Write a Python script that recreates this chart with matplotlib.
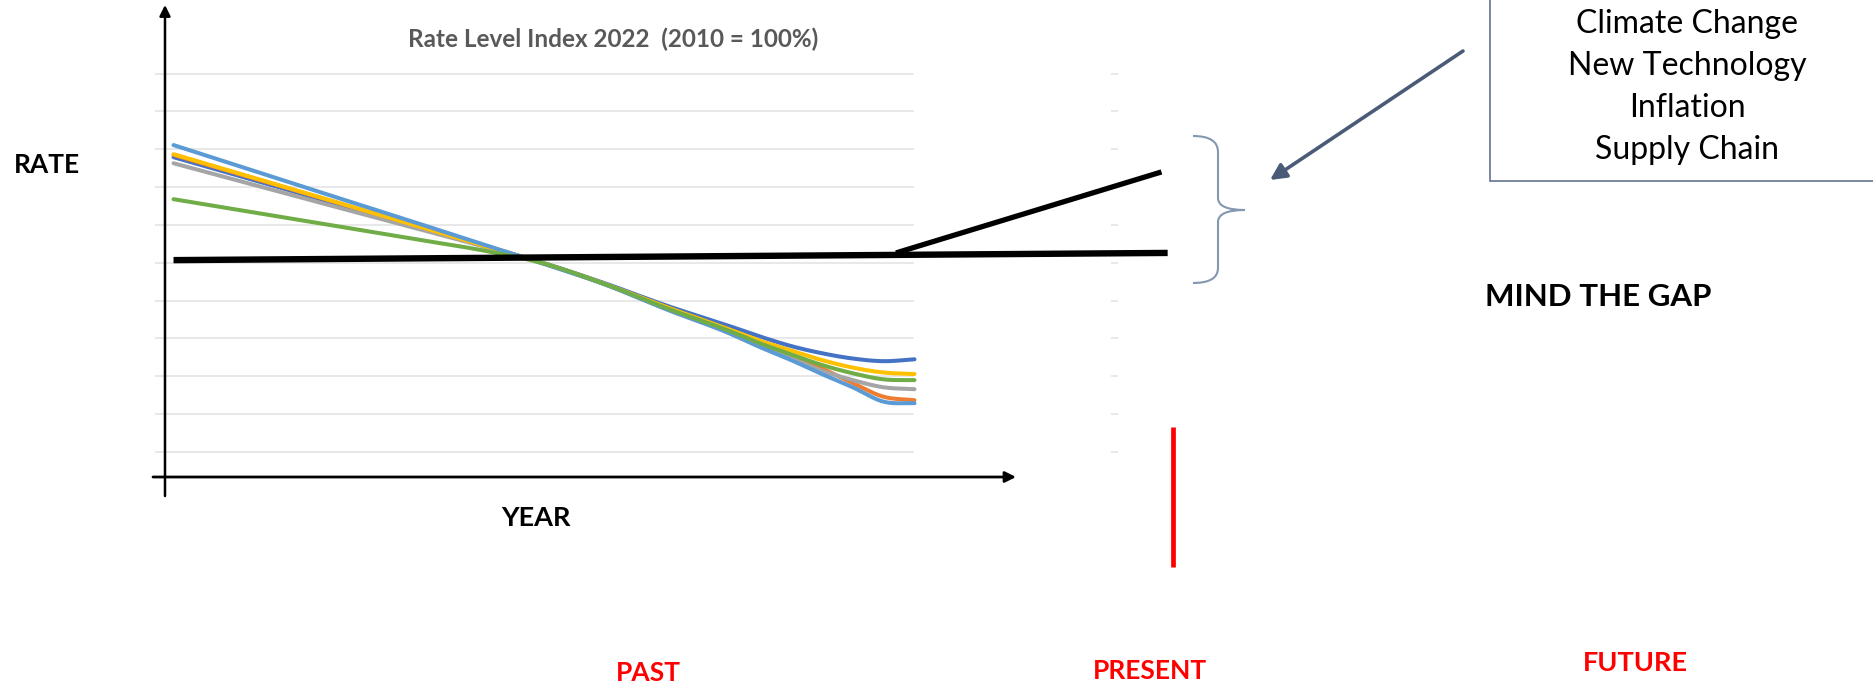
import numpy as np
import matplotlib
matplotlib.use("Agg")
import matplotlib.pyplot as plt
from matplotlib.path import Path
from matplotlib.patches import PathPatch, Rectangle

plt.rcParams['font.family'] = ['Lato', 'DejaVu Sans']

# rate level index per region, 2010 = start of series
years = [2010, 2012, 2014, 2015, 2016, 2017, 2018, 2019, 2019.5, 2020, 2020.5, 2021, 2021.5, 2022]
dark_blue = [127.9, 118.6, 109.2, 104.6, 99.9, 94.5, 88.6, 83.3, 80.5, 78.0, 76.1, 74.7, 74.0, 74.5]
orange = [128.5, 119.0, 109.4, 104.7, 99.8, 94.3, 87.9, 82.0, 78.7, 75.6, 72.1, 68.2, 64.6, 63.7]
gray = [126.3, 117.5, 108.8, 104.4, 99.8, 94.2, 87.6, 81.4, 77.8, 74.8, 71.5, 69.0, 67.1, 66.6]
yellow = [128.7, 119.1, 109.5, 104.6, 99.8, 94.3, 88.2, 82.4, 79.4, 76.8, 74.3, 72.3, 71.0, 70.6]
light_blue = [131.1, 120.6, 110.2, 104.9, 99.7, 94.2, 87.6, 81.4, 77.7, 74.3, 70.6, 67.1, 63.3, 62.9]
green = [116.8, 111.4, 106.0, 103.3, 99.8, 94.3, 87.9, 82.0, 78.7, 75.8, 73.0, 70.8, 69.2, 69.0]

series = [
    (dark_blue, '#4472C4'),
    (orange, '#ED7D31'),
    (gray, '#A5A5A5'),
    (yellow, '#FFC000'),
    (light_blue, '#5B9BD5'),
    (green, '#70AD47'),
]

# flat rate path and the projected rise
base_years = [2010, 2026.1]
base_rate = [100.7, 102.6]
proj_years = [2021.7, 2026.0]
proj_rate = [102.6, 124.0]

grid_levels = [50, 60, 70, 80, 90, 100, 110, 120, 130, 140, 150]
drivers = ['Climate Change', 'New Technology', 'Inflation', 'Supply Chain']


def smooth(xs, ys, per=30):
    # cubic hermite through the points, like a smoothed spreadsheet line
    xs = np.asarray(xs, float)
    ys = np.asarray(ys, float)
    m = np.gradient(ys, xs)
    t = np.linspace(0, 1, per, endpoint=False)
    h00 = 2 * t**3 - 3 * t**2 + 1
    h10 = t**3 - 2 * t**2 + t
    h01 = -2 * t**3 + 3 * t**2
    h11 = t**3 - t**2
    out_x, out_y = [], []
    for i in range(len(xs) - 1):
        h = xs[i + 1] - xs[i]
        out_x.append(xs[i] + t * h)
        out_y.append(h00 * ys[i] + h10 * h * m[i] + h01 * ys[i + 1] + h11 * h * m[i + 1])
    out_x.append([xs[-1]])
    out_y.append([ys[-1]])
    return np.concatenate(out_x), np.concatenate(out_y)


W, H = 1873, 683
fig = plt.figure(figsize=(W / 100, H / 100), dpi=100)

# data area in pixels: x 155..1180, y 30..477
x0, x1, y0, y1 = 2009.7, 2026.3, 43.4, 161.5
ax = fig.add_axes([155 / W, (H - 477) / H, 1025 / W, 447 / H])
ax.set_xlim(x0, x1)
ax.set_ylim(y0, y1)
ax.axis('off')

for lv in grid_levels:
    ax.hlines(lv, x0, 2022, color='#e6e6e6', lw=1.3, zorder=1)
    ax.hlines(lv, 2025.18, 2025.3, color='#e6e6e6', lw=1.3, zorder=1)

for vals, col in series:
    sx, sy = smooth(years, vals)
    ax.plot(sx, sy, color=col, lw=2.9, solid_capstyle='round', zorder=3)

ax.plot(base_years, base_rate, color='black', lw=4.6, solid_capstyle='butt', zorder=4, clip_on=False)
ax.plot(proj_years, proj_rate, color='black', lw=3.8, solid_capstyle='butt', zorder=4, clip_on=False)

# overlay in pixel coordinates for the annotations
ov = fig.add_axes([0, 0, 1, 1], zorder=5)
ov.set_xlim(0, W)
ov.set_ylim(H, 0)
ov.axis('off')
ov.patch.set_alpha(0)

ov.annotate('', xy=(165, 5), xytext=(165, 496),
            arrowprops=dict(arrowstyle='-|>', color='black', lw=1.8, mutation_scale=16, shrinkA=0, shrinkB=0))
ov.annotate('', xy=(1016, 477), xytext=(153, 477),
            arrowprops=dict(arrowstyle='-|>', color='black', lw=2.0, mutation_scale=16, shrinkA=0, shrinkB=0))

ov.text(613, 39, 'Rate Level Index 2022  (2010 = 100%)', ha='center', va='center',
        fontsize=17.5, fontweight='bold', color='#595959')
ov.text(14, 165, 'RATE', ha='left', va='center', fontsize=19, fontweight='bold', color='black')
ov.text(536, 518, 'YEAR', ha='center', va='center', fontsize=19.5, fontweight='bold', color='black')

# brace around the gap
bv = [(1193, 136), (1218, 136), (1218, 152), (1218, 198), (1218, 210), (1245, 210),
      (1218, 210), (1218, 222), (1218, 268), (1218, 283), (1193, 283)]
bc = [Path.MOVETO, Path.CURVE3, Path.CURVE3, Path.LINETO, Path.CURVE3, Path.CURVE3,
      Path.CURVE3, Path.CURVE3, Path.LINETO, Path.CURVE3, Path.CURVE3]
ov.add_patch(PathPatch(Path(bv, bc), fill=False, edgecolor='#8497B0', lw=1.5))

ov.annotate('', xy=(1270, 180), xytext=(1463, 51),
            arrowprops=dict(arrowstyle='-|>', color='#4A5B78', lw=2.6, mutation_scale=24, shrinkA=0, shrinkB=0))

ov.add_patch(Rectangle((1490, -10), 420, 191, fill=False, edgecolor='#6F7F98', lw=1.3, clip_on=False))
for i, d in enumerate(drivers):
    ov.text(1687, 24 + 42 * i, d, ha='center', va='center', fontsize=23, color='black')

ov.text(1598, 297, 'MIND THE GAP', ha='center', va='center', fontsize=22.5, fontweight='bold', color='black')

ov.plot([1173, 1173], [427, 567], color='red', lw=3.4, solid_capstyle='butt')

ov.text(648, 673, 'PAST', ha='center', va='center', fontsize=19, fontweight='bold', color='red')
ov.text(1150, 671, 'PRESENT', ha='center', va='center', fontsize=19, fontweight='bold', color='red')
ov.text(1635, 663, 'FUTURE', ha='center', va='center', fontsize=19.5, fontweight='bold', color='red')

fig.savefig('out.png', dpi=100)
